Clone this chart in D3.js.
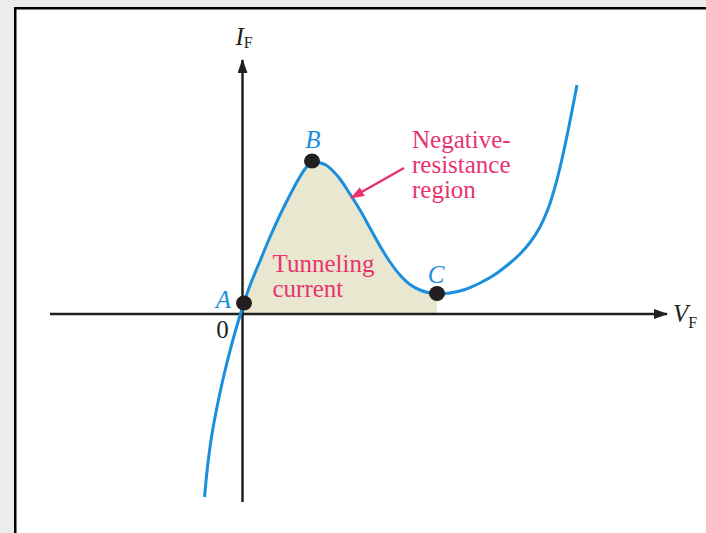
<!DOCTYPE html>
<html>
<head>
<meta charset="utf-8">
<script src="https://cdn.jsdelivr.net/npm/d3@7"></script>
<style>
  html, body { margin: 0; padding: 0; background: #ececea; }
  svg { display: block; }
</style>
</head>
<body>
<div id="chart"></div>
<script>
// tunnel diode I-V curve, arbitrary units
var curveV = [-0.076, -0.070, -0.062, -0.051, -0.038, -0.023, -0.006, 0.002, 0.015, 0.035, 0.055, 0.075, 0.095, 0.111, 0.125,
              0.139, 0.153, 0.167, 0.181, 0.195, 0.215, 0.235, 0.255, 0.275, 0.295, 0.315, 0.335, 0.355, 0.375, 0.389,
              0.415, 0.445, 0.475, 0.505, 0.535, 0.555, 0.575, 0.595, 0.611, 0.625, 0.639, 0.653, 0.669];
var curveI = [-1.83, -1.53, -1.23, -0.93, -0.63, -0.33, -0.03, 0.10, 0.285, 0.53, 0.77, 0.99, 1.19, 1.34, 1.45,
              1.525, 1.515, 1.49, 1.43, 1.35, 1.20, 1.04, 0.86, 0.68, 0.52, 0.39, 0.295, 0.24, 0.21, 0.20,
              0.21, 0.245, 0.31, 0.395, 0.51, 0.60, 0.715, 0.87, 1.05, 1.27, 1.55, 1.88, 2.29];

var pointNames = ["A", "B", "C"];
var pointV = [0.003, 0.139, 0.389];
var pointI = [0.11, 1.53, 0.205];

var axisV = [-0.385, 0.849];
var axisI = [-1.88, 2.54];

var width = 706, height = 533;
var blue = "#1b8fdc", pink = "#e8336f", ink = "#231f20";

var xScale = d3.scaleLinear().domain(axisV).range([50, 667]);
var yScale = d3.scaleLinear().domain(axisI).range([502, 60]);

var data = curveV.map((v, i) => ({v: v, i: curveI[i]}));
var points = pointNames.map((n, k) => ({name: n, v: pointV[k], i: pointI[k]}));

var svg = d3.select("#chart").append("svg")
    .attr("width", width)
    .attr("height", height);

svg.append("rect")
    .attr("x", 15.25).attr("y", 8.25)
    .attr("width", 720).attr("height", 560)
    .attr("fill", "#fff")
    .attr("stroke", "#000")
    .attr("stroke-width", 2.5);

var defs = svg.append("defs");
defs.append("clipPath").attr("id", "tunnel")
  .append("rect")
    .attr("x", xScale(0))
    .attr("y", yScale(axisI[1]))
    .attr("width", xScale(pointV[2]) - xScale(0))
    .attr("height", yScale(0) - yScale(axisI[1]));

defs.append("marker").attr("id", "axisHead")
    .attr("viewBox", "0 0 14 10").attr("refX", 13).attr("refY", 5)
    .attr("markerUnits", "userSpaceOnUse")
    .attr("markerWidth", 14).attr("markerHeight", 10)
    .attr("orient", "auto")
  .append("path").attr("d", "M0,0 L14,5 L0,10 Z").attr("fill", ink);

defs.append("marker").attr("id", "pinkHead")
    .attr("viewBox", "0 0 14 10").attr("refX", 13).attr("refY", 5)
    .attr("markerUnits", "userSpaceOnUse")
    .attr("markerWidth", 14).attr("markerHeight", 10)
    .attr("orient", "auto")
  .append("path").attr("d", "M0,0 L14,5 L0,10 Z").attr("fill", pink);

// shaded tunneling current
var area = d3.area()
    .x(d => xScale(d.v))
    .y0(yScale(0))
    .y1(d => yScale(d.i))
    .curve(d3.curveCatmullRom.alpha(0.5));

svg.append("path")
    .datum(data)
    .attr("clip-path", "url(#tunnel)")
    .attr("fill", "#e9e7cf")
    .attr("d", area);

// axes
svg.append("line")
    .attr("x1", xScale(axisV[0])).attr("x2", xScale(axisV[1]))
    .attr("y1", yScale(0)).attr("y2", yScale(0))
    .attr("stroke", ink).attr("stroke-width", 2.5)
    .attr("marker-end", "url(#axisHead)");

svg.append("line")
    .attr("x1", xScale(0)).attr("x2", xScale(0))
    .attr("y1", yScale(axisI[0])).attr("y2", yScale(axisI[1]))
    .attr("stroke", ink).attr("stroke-width", 2.5)
    .attr("marker-end", "url(#axisHead)");

var line = d3.line()
    .x(d => xScale(d.v))
    .y(d => yScale(d.i))
    .curve(d3.curveCatmullRom.alpha(0.5));

svg.append("path")
    .datum(data)
    .attr("fill", "none")
    .attr("stroke", blue)
    .attr("stroke-width", 3)
    .attr("d", line);

svg.selectAll("ellipse.pt")
    .data(points)
    .join("ellipse")
    .attr("class", "pt")
    .attr("cx", d => xScale(d.v))
    .attr("cy", d => yScale(d.i))
    .attr("rx", 8).attr("ry", 7.5)
    .attr("fill", ink);

var labelDx = {A: -13, B: 1, C: -1};
var labelDy = {A: 5, B: -13, C: -11};
svg.selectAll("text.pt")
    .data(points)
    .join("text")
    .attr("class", "pt")
    .attr("x", d => xScale(d.v) + labelDx[d.name])
    .attr("y", d => yScale(d.i) + labelDy[d.name])
    .attr("text-anchor", d => d.name == "A" ? "end" : "middle")
    .attr("font-family", "Liberation Serif")
    .attr("font-style", "italic")
    .attr("font-size", 25)
    .attr("fill", blue)
    .text(d => d.name);

// axis labels
svg.append("text")
    .attr("x", xScale(0) - 20)
    .attr("y", yScale(0) + 24)
    .attr("text-anchor", "middle")
    .attr("font-family", "Liberation Serif")
    .attr("font-size", 25)
    .attr("fill", ink)
    .text("0");

var iLab = svg.append("text")
    .attr("x", xScale(0) - 7)
    .attr("y", yScale(axisI[1]) - 15)
    .attr("font-family", "Liberation Serif")
    .attr("fill", ink);
iLab.append("tspan").attr("font-style", "italic").attr("font-size", 25).text("I");
iLab.append("tspan").attr("font-size", 16).attr("dy", 3).text("F");

var vLab = svg.append("text")
    .attr("x", xScale(axisV[1]) + 6)
    .attr("y", yScale(0) + 8)
    .attr("font-family", "Liberation Serif")
    .attr("fill", ink);
vLab.append("tspan").attr("font-style", "italic").attr("font-size", 25).text("V");
vLab.append("tspan").attr("font-size", 16).attr("dy", 6).text("F");

// annotations
var tipV = 0.217, tipI = 1.16;
svg.append("line")
    .attr("x1", xScale(tipV) + 53).attr("y1", yScale(tipI) - 30)
    .attr("x2", xScale(tipV)).attr("y2", yScale(tipI))
    .attr("stroke", pink).attr("stroke-width", 2.5)
    .attr("marker-end", "url(#pinkHead)");

var neg = svg.append("text")
    .attr("font-family", "Liberation Serif")
    .attr("font-size", 25)
    .attr("fill", pink);
["Negative-", "resistance", "region"].forEach((t, k) => {
    neg.append("tspan")
        .attr("x", xScale(tipV) + 61)
        .attr("y", yScale(tipI) - 50 + k * 25)
        .text(t);
});

var tun = svg.append("text")
    .attr("font-family", "Liberation Serif")
    .attr("font-size", 25)
    .attr("fill", pink);
["Tunneling", "current"].forEach((t, k) => {
    tun.append("tspan")
        .attr("x", xScale(0) + 30)
        .attr("y", yScale(0) - 42 + k * 25)
        .text(t);
});
</script>
</body>
</html>
